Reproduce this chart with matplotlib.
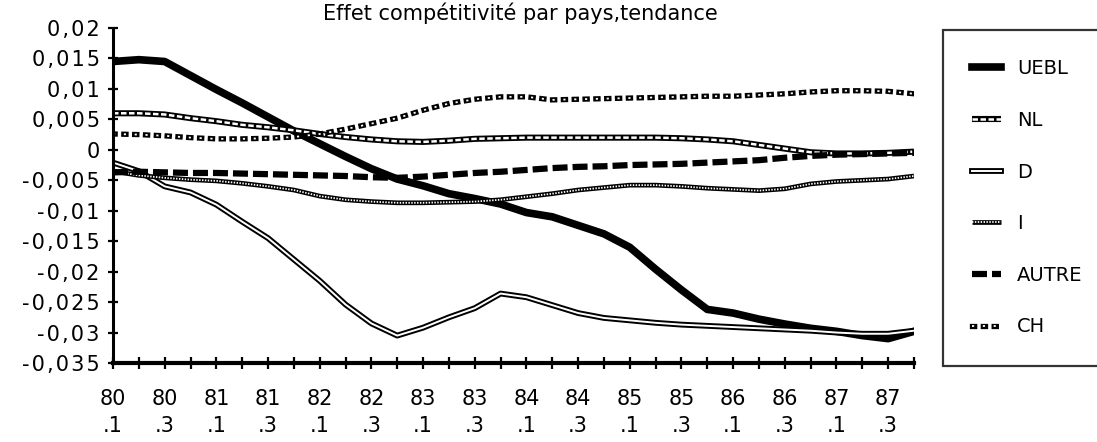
import matplotlib
matplotlib.use("Agg")
import matplotlib.pyplot as plt
import matplotlib.patheffects as pe
import numpy as np
from matplotlib.ticker import FuncFormatter, MultipleLocator

# quarters 80.1 .. 87.4
quarters = [f"{y}.{q}" for y in range(80, 88) for q in range(1, 5)]

uebl = [0.0145, 0.0148, 0.0145, 0.0122, 0.0099, 0.0077, 0.0054, 0.0031,
        0.0010, -0.0011, -0.0031, -0.0048, -0.0059, -0.0072, -0.0080, -0.0089,
        -0.0103, -0.0110, -0.0124, -0.0138, -0.0160, -0.0196, -0.0230, -0.0262,
        -0.0268, -0.0278, -0.0286, -0.0293, -0.0298, -0.0305, -0.0310, -0.0298]
nl = [0.0060, 0.0060, 0.0058, 0.0052, 0.0047, 0.0041, 0.0037, 0.0032,
      0.0026, 0.0021, 0.0017, 0.0014, 0.0013, 0.0015, 0.0018, 0.0019,
      0.0020, 0.0020, 0.0020, 0.0020, 0.0020, 0.0020, 0.0019, 0.0017,
      0.0014, 0.0008, 0.0002, -0.0004, -0.0006, -0.0006, -0.0005, -0.0003]
d = [-0.0021, -0.0035, -0.0060, -0.0070, -0.0090, -0.0118, -0.0145, -0.0180,
     -0.0215, -0.0254, -0.0285, -0.0305, -0.0292, -0.0275, -0.0260, -0.0236,
     -0.0242, -0.0255, -0.0268, -0.0276, -0.0280, -0.0284, -0.0287, -0.0289,
     -0.0291, -0.0293, -0.0295, -0.0297, -0.0300, -0.0302, -0.0302, -0.0297]
i_ = [-0.0035, -0.0042, -0.0046, -0.0049, -0.0051, -0.0055, -0.0060, -0.0066,
      -0.0076, -0.0082, -0.0085, -0.0087, -0.0087, -0.0086, -0.0085, -0.0082,
      -0.0077, -0.0072, -0.0066, -0.0062, -0.0058, -0.0058, -0.0060, -0.0063,
      -0.0065, -0.0067, -0.0064, -0.0056, -0.0052, -0.0050, -0.0048, -0.0043]
autre = [-0.0037, -0.0036, -0.0037, -0.0038, -0.0038, -0.0039, -0.0040, -0.0041,
         -0.0042, -0.0043, -0.0045, -0.0046, -0.0044, -0.0041, -0.0038, -0.0036,
         -0.0033, -0.0030, -0.0028, -0.0027, -0.0025, -0.0024, -0.0023, -0.0021,
         -0.0019, -0.0017, -0.0013, -0.0010, -0.0008, -0.0007, -0.0006, -0.0005]
ch = [0.0026, 0.0025, 0.0023, 0.0020, 0.0018, 0.0018, 0.0019, 0.0021,
      0.0026, 0.0034, 0.0043, 0.0052, 0.0065, 0.0076, 0.0083, 0.0087,
      0.0087, 0.0082, 0.0083, 0.0084, 0.0085, 0.0086, 0.0087, 0.0088,
      0.0088, 0.0090, 0.0092, 0.0095, 0.0097, 0.0097, 0.0096, 0.0092]

x = np.arange(len(quarters))

fig = plt.figure(figsize=(10.97, 4.42), dpi=100)
ax = fig.add_axes([113 / 1097, 79 / 442, 801 / 1097, 335 / 442])

outline = lambda w, **kw: [pe.Stroke(linewidth=w, foreground="black",
                                     dashes={"dash_offset": 0, "dash_list": None}, **kw),
                           pe.Normal()]

ax.plot(x, uebl, color="black", lw=5.5, label="UEBL")
ax.plot(x, nl, color="white", lw=1.8, dashes=(2.2, 1.0),
        path_effects=outline(4.4), label="NL")
ax.plot(x, d, color="white", lw=1.4, path_effects=outline(4.2), label="D")
ax.plot(x, i_, color="white", lw=1.3, dashes=(0.8, 0.8),
        path_effects=outline(3.4), label="I")
ax.plot(x, autre, color="black", lw=4.5, dashes=(2.4, 0.8), label="AUTRE")
ch_pe = [pe.Stroke(linewidth=3.8, foreground="black", capstyle="projecting"), pe.Normal()]
ax.plot(x, ch, color="white", lw=1.3, dashes=(1.2, 4.8),
        path_effects=ch_pe, label="CH")

ax.set_xlim(0, len(quarters) - 1)
ax.set_ylim(-0.035, 0.02)

for side in ("top", "right"):
    ax.spines[side].set_visible(False)
ax.spines["left"].set_linewidth(2.2)
ax.spines["bottom"].set_linewidth(3)

ax.yaxis.set_major_locator(MultipleLocator(0.005))


def fr(v, pos):
    s = f"{v:.3f}".rstrip("0").rstrip(".")
    if s in ("-0", "0"):
        s = "0"
    return "\u200a".join(s.replace(".", ","))


ax.yaxis.set_major_formatter(FuncFormatter(fr))
ax.set_xticks(x)
xlabels = [f"{q[:2]}\n.{q[3]}" if k % 2 == 0 else "" for k, q in enumerate(quarters)]
ax.set_xticklabels(xlabels, linespacing=1.45)
ax.tick_params(axis="y", direction="inout", length=7, width=1.6, labelsize=15, pad=6)
ax.tick_params(axis="x", direction="inout", length=9, width=1.6, labelsize=15, pad=14)

fig.text(520 / 1097, 1 - 13 / 442, "Effet compétitivité par pays,tendance",
         ha="center", va="center", fontsize=15)

leg = fig.legend(loc="upper left", bbox_to_anchor=(943 / 1097, 0, 0.3, 1 - 30 / 442),
                 mode="expand", fontsize=14, frameon=True, fancybox=False,
                 labelspacing=1.68, handlelength=1.5, handletextpad=0.8,
                 borderpad=1.5, borderaxespad=0)
leg.get_frame().set_edgecolor("black")
leg.get_frame().set_linewidth(1.6)

fig.savefig("out.png", dpi=100)
